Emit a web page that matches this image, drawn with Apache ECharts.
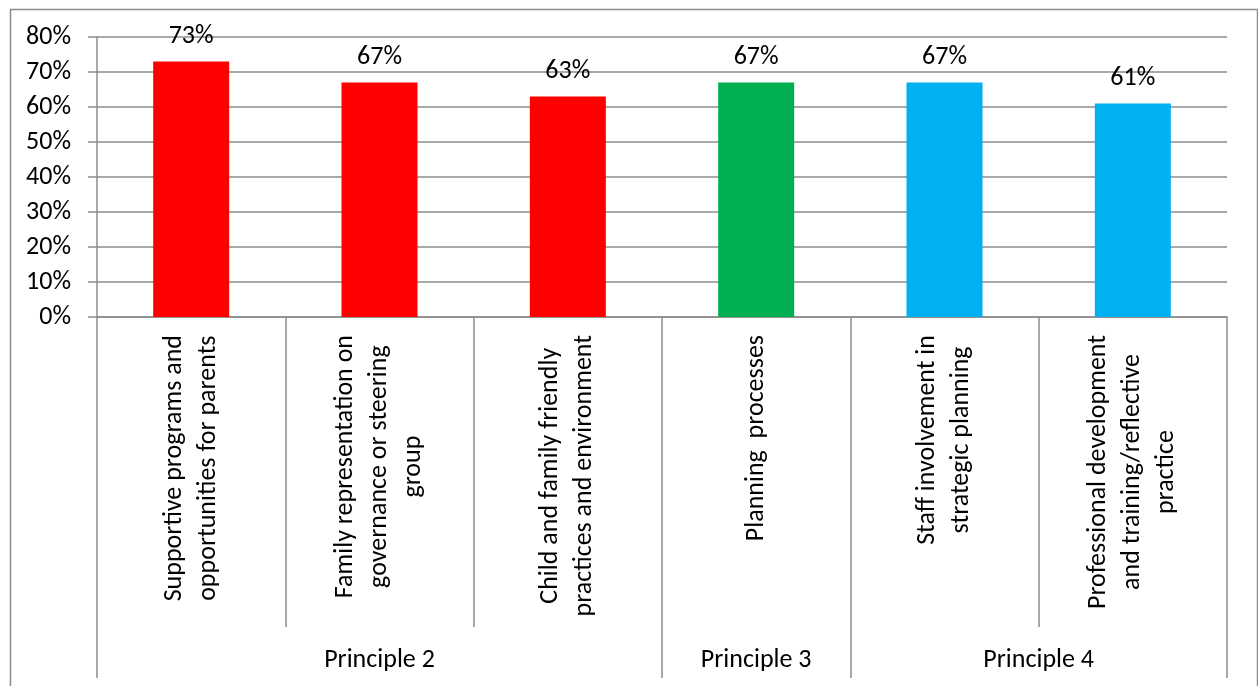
<!DOCTYPE html>
<html><head><meta charset="utf-8">
<script src="https://cdn.jsdelivr.net/npm/echarts@6/dist/echarts.min.js"></script>
<style>html,body{margin:0;padding:0;background:#fff}#c{width:1258px;height:686px}</style>
</head><body><div id="c"></div>
<script>
// ---- data ----
const categories = [
  'Supportive programs and\nopportunities for parents',
  'Family representation on\ngovernance or steering\ngroup',
  'Child and family friendly\npractices and environment',
  'Planning  processes',
  'Staff involvement in\nstrategic planning',
  'Professional development\nand training/reflective\npractice'
];
const values = [73, 67, 63, 67, 67, 61];
const groupNames = ['Principle 2', 'Principle 3', 'Principle 4'];
const groupSizes = [3, 1, 2];
const yMin = 0, yMax = 80, yStep = 10;

// ---- styles ----
const groupColors = ['#FF0000', '#00B050', '#00B0F0'];
const FONT = 'Carlito, Lato, sans-serif';
const GRAY = '#8c8c8c';
const FS = 26;

// derived group boundaries / centers
const groupBounds = [0];
groupSizes.forEach(s => groupBounds.push(groupBounds[groupBounds.length - 1] + s));
const groupCenters = groupSizes.map((s, i) => groupBounds[i] + s / 2);
const barGroup = [];
groupSizes.forEach((s, i) => { for (let k = 0; k < s; k++) barGroup.push(i); });

const chart = echarts.init(document.getElementById('c'));
chart.setOption({
  animation: false,
  backgroundColor: '#fff',
  textStyle: { fontFamily: FONT },
  graphic: [{
    type: 'rect', left: 8, top: 7, z: -1,
    shape: { width: 1247, height: 700 },
    style: { fill: 'none', stroke: GRAY, lineWidth: 1.5 }
  }],
  grid: { left: 97, right: 31, top: 37, bottom: 369, outerBoundsMode: 'none', containLabel: false },
  xAxis: [{
    type: 'category',
    data: categories,
    position: 'bottom',
    axisLine: { show: true, lineStyle: { color: GRAY, width: 1.5 } },
    axisTick: { show: true, interval: 0, length: 310, lineStyle: { color: GRAY, width: 1.5 } },
    axisLabel: {
      interval: 0, rotate: 90, margin: 18,
      formatter: v => v.split('\n').map(l => '{c|' + l + '}').join('\n'),
      rich: { c: { align: 'center', fontSize: FS, lineHeight: 34, fontFamily: FONT, color: '#000' } }
    },
    splitLine: { show: false }
  }, {
    type: 'value', min: 0, max: categories.length,
    position: 'bottom', offset: 310,
    axisLine: { show: false },
    axisTick: { show: true, customValues: groupBounds, length: 51, lineStyle: { color: GRAY, width: 1.5 } },
    axisLabel: {
      customValues: groupCenters, margin: 20,
      fontSize: FS, fontFamily: FONT, color: '#000',
      formatter: v => { const i = groupCenters.indexOf(v); return i >= 0 ? groupNames[i] : ''; }
    },
    splitLine: { show: false }
  }],
  yAxis: {
    type: 'value', min: yMin, max: yMax, interval: yStep,
    axisLine: { show: true, lineStyle: { color: GRAY, width: 1.5 } },
    axisTick: { show: true, length: 9, lineStyle: { color: GRAY, width: 1.5 } },
    axisLabel: { formatter: '{value}%', margin: 26, fontSize: FS, fontFamily: FONT, color: '#000' },
    splitLine: { show: true, lineStyle: { color: GRAY, width: 1.5 } }
  },
  series: [{
    type: 'bar',
    xAxisIndex: 0,
    barWidth: 76,
    data: values.map((v, i) => ({ value: v, itemStyle: { color: groupColors[barGroup[i]] } })),
    label: { show: true, position: 'top', distance: 12, formatter: '{c}%', fontSize: FS, fontFamily: FONT, color: '#000' }
  }]
});
</script></body></html>
